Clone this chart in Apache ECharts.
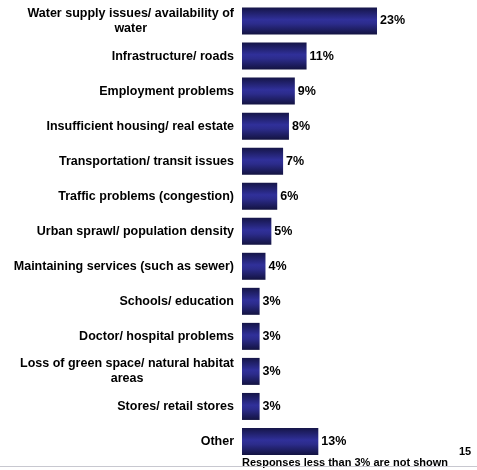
<!DOCTYPE html>
<html>
<head>
<meta charset="utf-8">
<script src="https://cdn.jsdelivr.net/npm/echarts@6/dist/echarts.min.js"></script>
<style>
  html, body { margin: 0; padding: 0; background: #fff; }
  #chart { width: 477px; height: 470px; }
</style>
</head>
<body>
<div id="chart"></div>
<script>
// categories from top to bottom
var categories = [
  "Water supply issues/ availability of\nwater",
  "Infrastructure/ roads",
  "Employment problems",
  "Insufficient housing/ real estate",
  "Transportation/ transit issues",
  "Traffic problems (congestion)",
  "Urban sprawl/ population density",
  "Maintaining services (such as sewer)",
  "Schools/ education",
  "Doctor/ hospital problems",
  "Loss of green space/ natural habitat\nareas",
  "Stores/ retail stores",
  "Other"
];
var values = [23, 11, 9, 8, 7, 6, 5, 4, 3, 3, 3, 3, 13];
var footnote = "Responses less than 3% are not shown";
var pageNo = "15";

var chart = echarts.init(document.getElementById("chart"));

var font = "Liberation Sans, Arial, sans-serif";

var option = {
  backgroundColor: "#fff",
  animation: false,
  grid: {
    left: 242,
    top: 3.5,
    width: 25 * 5.87,
    height: 455.5,
    containLabel: false
  },
  xAxis: {
    type: "value",
    min: 0,
    max: 25,
    show: false
  },
  yAxis: {
    type: "category",
    inverse: true,
    data: categories,
    axisLine: { show: false },
    axisTick: { show: false },
    splitLine: { show: false },
    axisLabel: {
      margin: 8,
      formatter: function(v) {
        return v.split("\n").map(function(s) { return "{a|" + s + "}"; }).join("\n");
      },
      rich: {
        a: {
          align: "center",
          fontFamily: font,
          fontWeight: "bold",
          fontSize: 12.5,
          lineHeight: 15,
          color: "#000"
        }
      }
    }
  },
  series: [{
    type: "bar",
    data: values,
    barWidth: 27,
    itemStyle: {
      color: new echarts.graphic.LinearGradient(0, 0, 0, 1, [
        { offset: 0, color: "#151548" },
        { offset: 0.45, color: "#30309a" },
        { offset: 0.6, color: "#2c2c8c" },
        { offset: 1, color: "#131340" }
      ])
    },
    label: {
      show: true,
      position: "right",
      distance: 3,
      formatter: "{c}%",
      fontFamily: font,
      fontWeight: "bold",
      fontSize: 12.5,
      color: "#000"
    }
  }],
  graphic: [
    {
      type: "text",
      left: 242,
      top: 457,
      style: {
        text: footnote,
        fontFamily: font,
        fontWeight: "bold",
        fontSize: 11,
        fill: "#000"
      }
    },
    {
      type: "text",
      left: 459,
      top: 446,
      style: {
        text: pageNo,
        fontFamily: font,
        fontWeight: "bold",
        fontSize: 11,
        fill: "#000"
      }
    },
    {
      type: "rect",
      left: 0,
      top: 466,
      shape: { width: 477, height: 1 },
      style: { fill: "#c8c8d0" }
    }
  ]
};

chart.setOption(option);
window.addEventListener("resize", function() {
  chart.resize();
});
</script>
</body>
</html>
